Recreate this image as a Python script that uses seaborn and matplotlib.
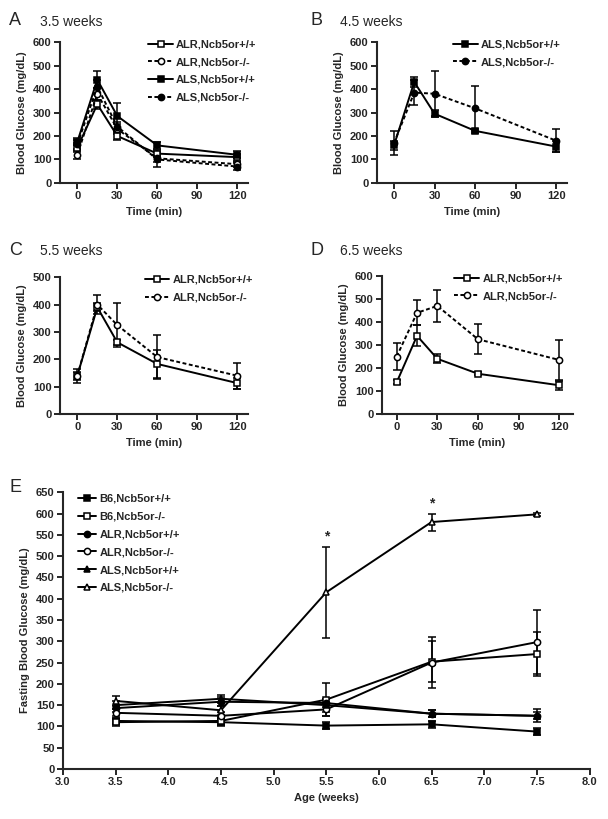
import seaborn as sns
import matplotlib.pyplot as plt
import pandas as pd

sns.set_style("ticks")
plt.rcParams['font.family'] = ['Liberation Sans', 'DejaVu Sans']
plt.rcParams['font.weight'] = 'bold'
plt.rcParams['axes.labelweight'] = 'bold'

t = [0, 15, 30, 60, 120]

# panel A, 3.5 weeks
a_alr_wt = [150, 335, 200, 125, 110]
a_alr_wt_err = [20, 20, 15, 15, 15]
a_alr_ko = [120, 380, 230, 105, 80]
a_alr_ko_err = [20, 25, 20, 15, 10]
a_als_wt = [175, 440, 285, 160, 120]
a_als_wt_err = [15, 35, 55, 15, 15]
a_als_ko = [165, 410, 240, 100, 70]
a_als_ko_err = [20, 30, 20, 30, 15]

# panel B, 4.5 weeks
b_als_wt = [160, 430, 295, 222, 155]
b_als_wt_err = [20, 20, 15, 8, 25]
b_als_ko = [170, 385, 380, 318, 180]
b_als_ko_err = [50, 55, 95, 95, 50]

# panel C, 5.5 weeks
c_alr_wt = [140, 390, 262, 183, 113]
c_alr_wt_err = [25, 15, 10, 50, 20]
c_alr_ko = [140, 400, 325, 208, 140]
c_alr_ko_err = [15, 35, 80, 80, 48]

# panel D, 6.5 weeks
d_alr_wt = [138, 340, 240, 175, 125]
d_alr_wt_err = [8, 45, 20, 6, 20]
d_alr_ko = [250, 440, 470, 325, 235]
d_alr_ko_err = [60, 55, 70, 65, 85]

# panel E, fasting glucose by age
age = [3.5, 4.5, 5.5, 6.5, 7.5]
e_names = ["B6,Ncb5or+/+", "B6,Ncb5or-/-", "ALR,Ncb5or+/+",
           "ALR,Ncb5or-/-", "ALS,Ncb5or+/+", "ALS,Ncb5or-/-"]
e_vals = [[113, 110, 102, 105, 88],
          [110, 113, 163, 252, 270],
          [143, 158, 155, 130, 125],
          [132, 125, 140, 250, 298],
          [150, 165, 150, 130, 125],
          [160, 138, 415, 580, 598]]
e_errs = [[8, 10, 8, 8, 8],
          [8, 10, 38, 48, 51],
          [8, 10, 10, 8, 15],
          [8, 8, 15, 60, 76],
          [10, 10, 15, 8, 8],
          [12, 10, 107, 20, 4]]
e_markers = ["s", "s", "o", "o", "^", "^"]
e_filled = [True, False, True, False, True, False]

SOLID = "-"
DOT = (0, (2, 1.3))


def series(ax, x, y, err, label, marker, filled, ls):
    df = pd.DataFrame({"x": x, "y": y})
    sns.lineplot(data=df, x="x", y="y", ax=ax, color="black", lw=1.4,
                 linestyle=ls, marker=marker, markersize=5 if marker != "o" else 4.5,
                 markerfacecolor="black" if filled else "white",
                 markeredgecolor="black", markeredgewidth=1.1, label=label)
    ax.errorbar(x, y, yerr=err, fmt="none", ecolor="black", elinewidth=1.1,
                capsize=3, capthick=1.1, zorder=1)


def style(ax, ymax, ystep, xlim, xticks, xlabel, ylabel):
    ax.set_ylim(0, ymax)
    ax.set_yticks(range(0, ymax + 1, ystep))
    ax.set_xlim(*xlim)
    ax.set_xticks(xticks)
    ax.set_xlabel(xlabel, fontsize=8, fontweight="bold", labelpad=4)
    ax.set_ylabel(ylabel, fontsize=8, fontweight="bold", labelpad=4)
    ax.tick_params(labelsize=8, width=1.4, length=4, pad=2)
    for s in ["left", "bottom"]:
        ax.spines[s].set_linewidth(1.5)
    sns.despine(ax=ax)


def legend(ax, anchor, loc="upper right", hl=2.2):
    ax.legend(loc=loc, bbox_to_anchor=anchor, frameon=False,
              handlelength=hl, handletextpad=0.3, labelspacing=0.7,
              prop={"weight": "bold", "size": 8})


fig = plt.figure(figsize=(6.08, 8.19), dpi=100)
axA = fig.add_axes([0.0987, 0.7766, 0.309, 0.172])
axB = fig.add_axes([0.620, 0.7766, 0.3125, 0.172])
axC = fig.add_axes([0.0987, 0.4945, 0.309, 0.167])
axD = fig.add_axes([0.628, 0.4945, 0.314, 0.1685])
axE = fig.add_axes([0.1036, 0.061, 0.866, 0.338])

series(axA, t, a_alr_wt, a_alr_wt_err, "ALR,Ncb5or+/+", "s", False, SOLID)
series(axA, t, a_alr_ko, a_alr_ko_err, "ALR,Ncb5or-/-", "o", False, DOT)
series(axA, t, a_als_wt, a_als_wt_err, "ALS,Ncb5or+/+", "s", True, SOLID)
series(axA, t, a_als_ko, a_als_ko_err, "ALS,Ncb5or-/-", "o", True, DOT)
style(axA, 600, 100, (-13, 128), [0, 30, 60, 90, 120], "Time (min)", "Blood Glucose (mg/dL)")
legend(axA, (1.1, 1.09))

series(axB, t, b_als_wt, b_als_wt_err, "ALS,Ncb5or+/+", "s", True, SOLID)
series(axB, t, b_als_ko, b_als_ko_err, "ALS,Ncb5or-/-", "o", True, DOT)
style(axB, 600, 100, (-12.6, 128), [0, 30, 60, 90, 120], "Time (min)", "Blood Glucose (mg/dL)")
legend(axB, (1.02, 1.09))

series(axC, t, c_alr_wt, c_alr_wt_err, "ALR,Ncb5or+/+", "s", False, SOLID)
series(axC, t, c_alr_ko, c_alr_ko_err, "ALR,Ncb5or-/-", "o", False, DOT)
style(axC, 500, 100, (-13, 128), [0, 30, 60, 90, 120], "Time (min)", "Blood Glucose (mg/dL)")
legend(axC, (1.08, 1.09))

series(axD, t, d_alr_wt, d_alr_wt_err, "ALR,Ncb5or+/+", "s", False, SOLID)
series(axD, t, d_alr_ko, d_alr_ko_err, "ALR,Ncb5or-/-", "o", False, DOT)
style(axD, 600, 100, (-11, 130), [0, 30, 60, 90, 120], "Time (min)", "Blood Glucose (mg/dL)")
legend(axD, (1.0, 1.09))

for name, v, e, m, f in zip(e_names, e_vals, e_errs, e_markers, e_filled):
    series(axE, age, v, e, name, m, f, SOLID)
style(axE, 650, 50, (3.0, 8.0), [3.0, 3.5, 4.0, 4.5, 5.0, 5.5, 6.0, 6.5, 7.0, 7.5, 8.0],
      "Age (weeks)", "Fasting Blood Glucose (mg/dL)")
axE.set_xticklabels([f"{v:.1f}" for v in axE.get_xticks()])
legend(axE, (0.01, 1.03), loc="upper left", hl=1.6)
axE.text(5.5, 530, "*", ha="center", va="bottom", fontsize=10)
axE.text(6.5, 608, "*", ha="center", va="bottom", fontsize=10)

for x, y, letter, title in [(0.015, 0.985, "A", "3.5 weeks"), (0.51, 0.985, "B", "4.5 weeks"),
                            (0.015, 0.705, "C", "5.5 weeks"), (0.51, 0.705, "D", "6.5 weeks")]:
    fig.text(x, y, letter, fontsize=13, fontweight="normal", va="top")
    fig.text(x + 0.05, y - 0.003, title, fontsize=10, fontweight="normal", va="top")
fig.text(0.015, 0.415, "E", fontsize=13, fontweight="normal", va="top")

fig.savefig("out.png", dpi=100)
